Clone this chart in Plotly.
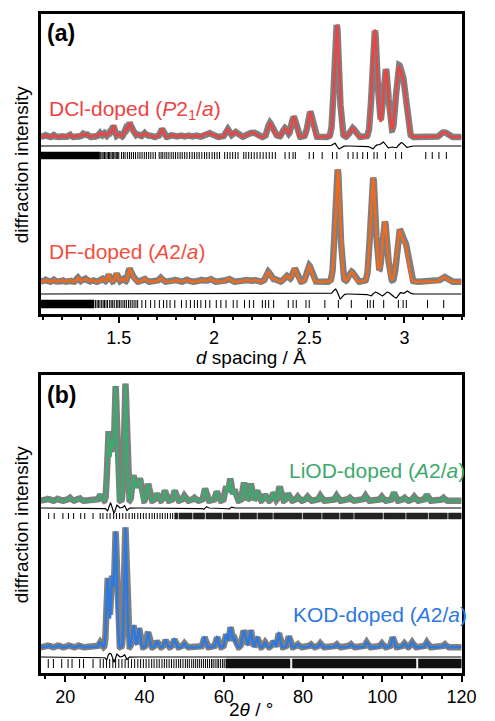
import numpy as np
import plotly.graph_objects as go

# ================= DATA =================
# ---- Panel (a): d spacing / Å ----
dcl_peak_d = [1.12, 1.16, 1.20, 1.24, 1.28, 1.31, 1.33, 1.37, 1.40, 1.423, 1.45, 1.471,
              1.50, 1.535, 1.556, 1.575, 1.60, 1.633, 1.66, 1.726, 1.78, 1.82, 1.86, 1.90,
              1.95, 1.973, 2.00, 2.071, 2.109, 2.13, 2.18, 2.203, 2.22, 2.293, 2.318, 2.372,
              2.418, 2.505, 2.645, 2.727, 2.844, 2.903, 2.968, 2.998, 3.209]
dcl_peak_h = [2, 2, 1.5, 2.5, 2, 3, 3, 2, 4, 4, 5, 11,
              3, 8, 14, 6, 3, 4, 2, 8, 2, 2, 2, 2,
              3, 4, 2, 8, 5, 2, 3, 4, 2, 14, 3, 9,
              20, 25, 112, 9, 107, 67, 64, 48, 5]
dcl_diff_d = [2.645, 2.844, 2.872, 2.903, 2.968, 3.000]
dcl_diff_a = [-3.0, 3.0, 2.0, -2.0, 2.0, -1.5]
dcl_tick_bands = [(1.09, 1.40)]
dcl_ticks = [1.405, 1.412, 1.418, 1.425, 1.432, 1.439, 1.446, 1.452, 1.459, 1.466, 1.473,
             1.480, 1.487, 1.494, 1.500, 1.514, 1.524, 1.533, 1.545, 1.556, 1.566, 1.577,
             1.588, 1.600, 1.611, 1.622, 1.634, 1.645, 1.657, 1.668, 1.680, 1.692, 1.712,
             1.722, 1.731, 1.742, 1.752, 1.763, 1.775, 1.786, 1.798, 1.810, 1.822, 1.833,
             1.846, 1.858, 1.872, 1.885, 1.897, 1.910, 1.922, 1.936, 1.950, 1.962, 1.975,
             1.990, 2.003, 2.016, 2.029, 2.056, 2.070, 2.084, 2.098, 2.112, 2.126, 2.156,
             2.168, 2.182, 2.196, 2.211, 2.226, 2.242, 2.258, 2.274, 2.290, 2.306, 2.322,
             2.373, 2.395, 2.415, 2.427, 2.500, 2.522, 2.568, 2.622, 2.645, 2.704, 2.730,
             2.752, 2.781, 2.806, 2.840, 2.857, 2.900, 2.954, 2.985, 3.112, 3.146, 3.181,
             3.220]

df_peak_d = [1.12, 1.16, 1.20, 1.24, 1.284, 1.31, 1.327, 1.36, 1.412, 1.446, 1.488, 1.52,
             1.556, 1.575, 1.633, 1.718, 1.80, 1.86, 1.939, 1.978, 2.075, 2.17, 2.21,
             2.284, 2.318, 2.381, 2.423, 2.500, 2.650, 2.722, 2.835, 2.896, 2.973, 3.005,
             3.206]
df_peak_h = [2, 2, 2, 2, 4, 2, 3, 2, 3, 7, 8, 3,
             13, 5, 3, 4, 2, 2, 2, 3, 3, 2, 2,
             10, 3, 6, 13, 16, 112, 10, 104, 60, 48, 34,
             5]
df_diff_d = [2.650, 2.835, 2.896, 2.968, 3.000]
df_diff_a = [-5.0, 2.0, 2.0, 4.0, 3.0]
df_tick_bands = [(1.09, 1.37)]
df_ticks = [1.378, 1.386, 1.393, 1.401, 1.410, 1.418, 1.425, 1.433, 1.441, 1.452, 1.460,
            1.468, 1.476, 1.487, 1.495, 1.503, 1.512, 1.522, 1.531, 1.540, 1.551, 1.560,
            1.570, 1.580, 1.590, 1.599, 1.621, 1.641, 1.667, 1.689, 1.713, 1.735, 1.752,
            1.769, 1.794, 1.829, 1.854, 1.876, 1.897, 1.913, 1.931, 1.956, 1.978, 2.012,
            2.036, 2.063, 2.101, 2.121, 2.160, 2.186, 2.208, 2.254, 2.270, 2.287, 2.313,
            2.390, 2.415, 2.432, 2.483, 2.500, 2.582, 2.653, 2.721, 2.806, 2.820, 2.837,
            2.891, 2.968, 2.993, 3.010, 3.121, 3.206]

# ---- Panel (b): 2θ / ° ----
liod_peak_t = [15.8, 18.2, 21.1, 23.5, 28.8, 30.9, 31.8, 32.7, 35.2, 37.2, 38.1, 38.85,
               40.9, 43.1, 45.1, 47.6, 50.0, 52.5, 55.2, 58.2, 60.6, 61.6, 62.7, 65.1,
               66.8, 68.4, 70.4, 72.5, 74.1, 76.2, 78.6, 81.1, 84.3, 88.4, 91.7, 95.7,
               99.8, 102.9, 105.5, 108.0, 111.2, 115.3]
liod_peak_h = [2, 2, 3, 2.5, 6, 68, 58, 114, 117, 25, 15, 21,
               17, 7, 10, 10, 5, 3, 12, 9, 14, 22, 11, 18,
               17, 10, 6, 8, 14, 7, 4, 4, 5, 5, 3, 5,
               4, 8, 3, 4, 6, 3]
liod_diff_t = [30.9, 31.8, 32.7, 35.2, 55.2, 61.6]
liod_diff_a = [3.0, -3.0, 3.0, -2.5, 1.5, 1.0]
liod_tick_bands = [(47.6, 48.4), (48.7, 52.0), (52.3, 55.2), (55.5, 59.5), (59.8, 63.8),
                   (64.1, 68.3), (68.6, 72.3), (72.6, 79.7), (80.0, 84.6), (84.9, 89.1),
                   (89.4, 92.7), (93.0, 100.1), (100.4, 105.8), (106.1, 111.5),
                   (111.8, 116.4), (116.7, 120.0)]
liod_ticks = [15.8, 17.2, 19.4, 20.8, 22.1, 23.9, 24.9, 27.0, 28.8, 29.5, 30.5, 31.3, 32.2,
              32.9, 33.7, 34.5, 35.3, 36.1, 36.9, 37.5, 38.3, 39.0, 39.7, 40.4, 41.2, 41.9,
              42.5, 43.2, 43.9, 44.5, 45.2, 45.8, 46.5, 47.1]

kod_peak_t = [15.8, 18.3, 21.1, 23.5, 28.8, 30.7, 31.8, 32.7, 35.2, 37.2, 38.6, 40.9,
              43.1, 45.3, 47.5, 50.0, 55.1, 58.3, 60.6, 61.7, 62.7, 64.9, 65.5, 66.8,
              68.4, 70.4, 72.5, 73.9, 76.4, 78.6, 81.9, 84.3, 88.4, 92.0, 96.0, 99.8,
              102.6, 105.5, 107.5, 111.2, 115.7]
kod_peak_h = [2, 2, 2, 2, 5, 69, 70, 115, 120, 22, 19, 15,
              6, 7, 8, 4, 10, 10, 13, 20, 9, 15, 9, 17,
              10, 5, 6, 14, 11, 3, 3, 4, 3, 3, 5, 4,
              10, 4, 5, 5, 3]
kod_diff_t = [30.7, 31.8, 32.7, 35.2]
kod_diff_a = [3.0, -3.0, 3.0, -2.5]
kod_tick_bands = [(60.5, 76.7), (77.3, 108.5), (109.1, 120.0)]
kod_ticks = [15.7, 17.0, 19.1, 20.7, 21.7, 23.6, 24.6, 27.0, 28.8, 29.6, 30.4, 31.2, 32.0,
             32.7, 33.5, 34.3, 35.1, 35.9, 36.7, 37.5, 38.3, 39.0, 39.7, 40.4, 41.1, 41.8,
             42.4, 43.1, 43.7, 44.4, 45.0, 45.6, 46.2, 46.8, 47.4, 48.0, 48.6, 49.1, 49.7,
             50.3, 50.8, 51.3, 51.9, 52.4, 52.9, 53.4, 53.9, 54.4, 54.9, 55.4, 55.9, 56.4,
             56.9, 57.3, 57.8, 58.3, 58.7, 59.2, 59.7, 60.1]

# axis tick labels
a_tickvals = [1.5, 2.0, 2.5, 3.0]
a_ticktext = ["1.5", "2", "2.5", "3"]
b_tickvals = [20, 40, 60, 80, 100, 120]
b_ticktext = ["20", "40", "60", "80", "100", "120"]

# ================= STYLE / LAYOUT CONSTANTS =================
W, H = 495, 721
XA_RANGE = [1.09, 3.30]
XB_RANGE = [13.8, 120.0]
YA_RANGE = [0, 300]
YB_RANGE = [0, 298]
X_DOM = [42 / W, 476 / W]
YA_DOM = [1 - 314 / H, 1 - 14 / H]
YB_DOM = [1 - 673 / H, 1 - 375 / H]

# vertical placement within each panel (panel units)
DCL_BASE, DCL_DIFF, DCL_TICK = 177.0, 168.0, (155.0, 162.0)
DF_BASE, DF_DIFF, DF_TICK = 32.3, 20.0, (6.0, 14.0)
LIOD_BASE, LIOD_DIFF, LIOD_TICK = 172.3, 165.0, (154.0, 160.0)
KOD_BASE, KOD_DIFF, KOD_TICK = 25.7, 16.0, (5.0, 14.0)

RED = "#EC4444"
ORANGE = "#F2691C"
DFTXT = "#F0503E"
GREEN = "#3DA96C"
BLUE = "#2C79E0"
GRAY = "#7F7F7F"
FONT = "Liberation Sans, Arial, sans-serif"


def profile(x, pos, hgt, sig_fn):
    y = np.zeros_like(x)
    for p, h in zip(pos, hgt):
        s = sig_fn(p)
        y += h * np.exp(-(x - p) ** 2 / (2 * s * s))
    return y


def wiggle(x, pos, amp, sig_fn):
    y = np.zeros_like(x)
    for p, a in zip(pos, amp):
        s = sig_fn(p)
        u = (x - p) / s
        y += a * u * np.exp(0.5 - u * u / 2)
    return y


sig_a = lambda p: 0.0047 * p
sig_b = lambda p: 0.31

xa = np.linspace(XA_RANGE[0], XA_RANGE[1], 3000)
xb = np.linspace(XB_RANGE[0], XB_RANGE[1], 4000)

fig = go.Figure()


def add_pattern(x, pos, hgt, dpos, damp, sig_fn, base, diffy, tick_y, ticks, bands,
                color, xr, yr, bandcolor="black"):
    calc = profile(x, pos, hgt, sig_fn)
    diff = wiggle(x, dpos, damp, sig_fn)
    obs = calc + diff
    fig.add_trace(go.Scatter(x=x, y=obs + base, mode="lines",
                             line=dict(color=GRAY, width=6.5), xaxis=xr, yaxis=yr,
                             hoverinfo="skip"))
    fig.add_trace(go.Scatter(x=x, y=calc + base, mode="lines",
                             line=dict(color=color, width=2.4), xaxis=xr, yaxis=yr,
                             hoverinfo="skip"))
    fig.add_trace(go.Scatter(x=x, y=diff + diffy, mode="lines",
                             line=dict(color="black", width=1.2), xaxis=xr, yaxis=yr,
                             hoverinfo="skip"))
    tx, ty = [], []
    for t in ticks:
        tx += [t, t, None]
        ty += [tick_y[0], tick_y[1], None]
    fig.add_trace(go.Scatter(x=tx, y=ty, mode="lines",
                             line=dict(color="black", width=1), xaxis=xr, yaxis=yr,
                             hoverinfo="skip"))
    bx, by = [], []
    for s, e in bands:
        bx += [s, e, e, s, s, None]
        by += [tick_y[0], tick_y[0], tick_y[1], tick_y[1], tick_y[0], None]
    if bands:
        fig.add_trace(go.Scatter(x=bx, y=by, mode="lines", fill="toself",
                                 fillcolor=bandcolor, line=dict(color=bandcolor, width=0.5),
                                 xaxis=xr, yaxis=yr, hoverinfo="skip"))


add_pattern(xa, dcl_peak_d, dcl_peak_h, dcl_diff_d, dcl_diff_a, sig_a, DCL_BASE, DCL_DIFF,
            DCL_TICK, dcl_ticks, dcl_tick_bands, RED, "x", "y")
add_pattern(xa, df_peak_d, df_peak_h, df_diff_d, df_diff_a, sig_a, DF_BASE, DF_DIFF,
            DF_TICK, df_ticks, df_tick_bands, ORANGE, "x", "y")
add_pattern(xb, liod_peak_t, liod_peak_h, liod_diff_t, liod_diff_a, sig_b, LIOD_BASE,
            LIOD_DIFF, LIOD_TICK, liod_ticks, liod_tick_bands, GREEN, "x2", "y2",
            bandcolor="#222222")
add_pattern(xb, kod_peak_t, kod_peak_h, kod_diff_t, kod_diff_a, sig_b, KOD_BASE,
            KOD_DIFF, KOD_TICK, kod_ticks, kod_tick_bands, BLUE, "x2", "y2",
            bandcolor="#111111")

axis_common = dict(showline=True, linecolor="black", linewidth=2.5, mirror=True,
                   showgrid=False, zeroline=False)

fig.update_layout(
    width=W, height=H, margin=dict(l=0, r=0, t=0, b=0),
    paper_bgcolor="white", plot_bgcolor="white", showlegend=False,
    font=dict(family=FONT, color="black"),
    xaxis=dict(domain=X_DOM, range=XA_RANGE, anchor="y", tickvals=a_tickvals,
               ticktext=a_ticktext, ticks="outside", ticklen=6, tickwidth=2,
               tickcolor="black", tickfont=dict(size=18, family=FONT),
               minor=dict(dtick=0.1, tick0=1.0, ticks="outside", ticklen=3.5,
                          tickwidth=1.5, tickcolor="black"),
               **axis_common),
    yaxis=dict(domain=YA_DOM, range=YA_RANGE, anchor="x", showticklabels=False,
               ticks="", **axis_common),
    xaxis2=dict(domain=X_DOM, range=XB_RANGE, anchor="y2", tickvals=b_tickvals,
                ticktext=b_ticktext, ticks="outside", ticklen=6, tickwidth=2,
                tickcolor="black", tickfont=dict(size=18, family=FONT),
                minor=dict(dtick=5, tick0=0, ticks="outside", ticklen=3.5,
                           tickwidth=1.5, tickcolor="black"),
                **axis_common),
    yaxis2=dict(domain=YB_DOM, range=YB_RANGE, anchor="x2", showticklabels=False,
                ticks="", **axis_common),
)


def ann(text, x, y, size, color="black", xanchor="left", angle=0):
    fig.add_annotation(text=text, x=x / W, y=1 - y / H, xref="paper", yref="paper",
                       xanchor=xanchor, yanchor="middle", showarrow=False,
                       textangle=angle, borderpad=0,
                       font=dict(size=size, color=color, family=FONT))


ann("<b>(a)</b>", 47, 33, 23)
ann("<b>(b)</b>", 47, 395, 23)
ann("DCl-doped (<i>P</i>2<sub>1</sub>/<i>a</i>)", 50, 110, 21, RED)
ann("DF-doped (<i>A</i>2/<i>a</i>)", 50, 251, 21, DFTXT)
ann("LiOD-doped (<i>A</i>2/<i>a</i>)", 297, 470, 21, GREEN)
ann("KOD-doped (<i>A</i>2/<i>a</i>)", 301, 614, 21, BLUE)
ann("diffraction intensity", 22, 164, 19, xanchor="center", angle=-90)
ann("diffraction intensity", 22, 524, 19, xanchor="center", angle=-90)
ann("<i>d</i> spacing / Å", 259, 357, 19, xanchor="center")
ann("2<i>θ</i> / °", 259, 709, 19, xanchor="center")

fig.write_html("out.html")
